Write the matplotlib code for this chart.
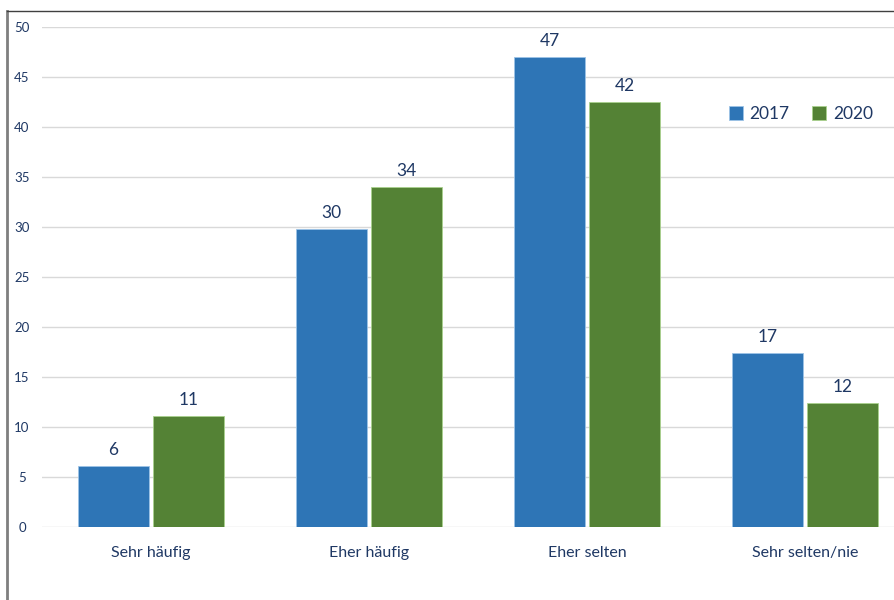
import matplotlib.pyplot as plt
import numpy as np
from matplotlib.lines import Line2D

kategorien = ["Sehr häufig", "Eher häufig", "Eher selten", "Sehr selten/nie"]
werte_2017 = [6.1, 29.8, 47.0, 17.4]
werte_2020 = [11.1, 34.0, 42.5, 12.4]
labels_2017 = ["6", "30", "47", "17"]
labels_2020 = ["11", "34", "42", "12"]
y_ticks = [0, 5, 10, 15, 20, 25, 30, 35, 40, 45, 50]

blau = "#2E75B6"
gruen = "#548235"
textfarbe = "#1F3864"

plt.rcParams['font.family'] = ['Lato', 'DejaVu Sans']

fig = plt.figure(figsize=(8.95, 6), dpi=100)
ax = fig.add_axes([42/895, 1-527/600, 872/895, 500/600])

x = np.arange(len(kategorien))
b = 0.33
bars1 = ax.bar(x - b/2 - 0.007, werte_2017, b, color=blau, edgecolor="#9DC3E6", linewidth=0.6, label="2017", zorder=3)
bars2 = ax.bar(x + b/2 + 0.007, werte_2020, b, color=gruen, edgecolor="#A9D18E", linewidth=0.6, label="2020", zorder=3)
ax.bar_label(bars1, labels=labels_2017, padding=6, color=textfarbe, fontsize=12.5)
ax.bar_label(bars2, labels=labels_2020, padding=6, color=textfarbe, fontsize=12.5)

ax.set_xlim(-0.5, 3.5)
ax.set_ylim(0, 50)
ax.set_yticks(y_ticks)
ax.set_xticks(x)
ax.set_xticklabels(kategorien, fontsize=11.5, color=textfarbe)
ax.tick_params(axis='x', length=0, pad=14)
ax.tick_params(axis='y', length=0, pad=14.4, labelsize=9.5, labelcolor=textfarbe)
for t in ax.get_yticklabels():
    t.set_horizontalalignment('center')
ax.grid(axis='y', color="#D9D9D9", linewidth=1, zorder=0)
for s in ax.spines.values():
    s.set_visible(False)

fig.legend(handles=[bars1, bars2], labels=["2017", "2020"], loc='center',
           bbox_to_anchor=(801/895, 1-114/600), ncol=2, frameon=False,
           fontsize=12.5, handlelength=0.8, handleheight=0.8, handletextpad=0.4,
           columnspacing=1.3, labelcolor=textfarbe)

# Rahmen
fig.add_artist(Line2D([7/895, 7/895], [0, 1-11/600], transform=fig.transFigure, color="#7F7F7F", linewidth=2))
fig.add_artist(Line2D([7/895, 1], [1-11/600, 1-11/600], transform=fig.transFigure, color="#404040", linewidth=1))

fig.savefig("out.png", dpi=100)
